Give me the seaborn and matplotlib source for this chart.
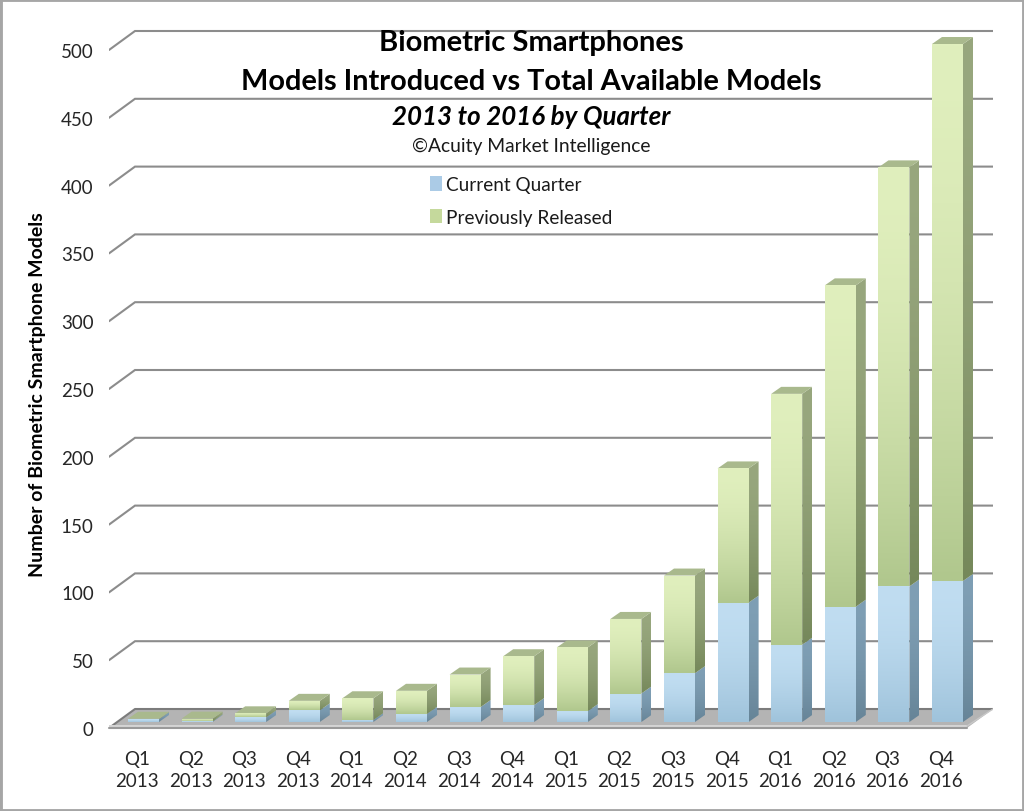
#!/usr/bin/python
import matplotlib
matplotlib.use('Agg')
import matplotlib.pyplot as plt
import matplotlib.transforms as mtrans
from matplotlib.colors import to_rgb
from matplotlib.patches import Patch, Polygon, Rectangle
import numpy as np
import pandas as pd
import seaborn as sns

quarters = ['Q1\n2013', 'Q2\n2013', 'Q3\n2013', 'Q4\n2013',
            'Q1\n2014', 'Q2\n2014', 'Q3\n2014', 'Q4\n2014',
            'Q1\n2015', 'Q2\n2015', 'Q3\n2015', 'Q4\n2015',
            'Q1\n2016', 'Q2\n2016', 'Q3\n2016', 'Q4\n2016']
current = [2, 0.5, 3.4, 8.6, 1.5, 6, 11, 12.5, 8, 21, 36, 88, 57, 85, 100, 104]
previous = [0.4, 2, 3, 7, 16, 17, 24, 36, 47, 55, 72, 99, 185, 237, 309, 396]
y_ticks = [0, 50, 100, 150, 200, 250, 300, 350, 400, 450, 500]

W, H = 1024, 812
STEP = 53.6          # px between bars
UNIT = 1.356         # px per model
BASE_X, BASE_Y = 143.5, 723   # px of first bar centre / bar foot


def dx(px):
    return px / STEP


def dy(px):
    return px / UNIT


sns.set_theme(style='white')
plt.rcParams['font.family'] = ['Lato', 'DejaVu Sans']
plt.rcParams['text.color'] = '#1a1a1a'

df = pd.DataFrame({'quarter': quarters, 'current': current, 'previous': previous})

fig = plt.figure(figsize=(W / 100, H / 100), dpi=100, facecolor='white')
ax = fig.add_axes([109 / W, (H - 729) / H, 884 / W, 709 / H])

sns.barplot(data=df, x='quarter', y='current', color='#afd0e6', width=31 / STEP,
            saturation=1, ax=ax, zorder=3, linewidth=0)
sns.barplot(data=df, x='quarter', y='previous', bottom=df['current'], color='#cfe2a6',
            width=31 / STEP, saturation=1, ax=ax, zorder=3, linewidth=0)

x_left, x_back = dx(109 - BASE_X), dx(135 - BASE_X)
x_right = dx(993 - BASE_X)
x_front_right = dx(967 - BASE_X)
lift_back = dy(BASE_Y - 710)
drop_front = dy(729 - BASE_Y)

# back wall grid with the slanted stub on the left
for v in y_ticks[1:]:
    ax.plot([x_left, x_back, x_right], [v - drop_front, v + lift_back, v + lift_back],
            color='#8c8c8c', lw=1.5, zorder=1, solid_joinstyle='miter')

# floor
ax.add_patch(Polygon([(x_left, -drop_front), (x_front_right, -drop_front),
                      (x_right, lift_back), (x_back, lift_back)],
                     closed=True, fc='#b4b4b4', ec='none', zorder=1.5))
ax.plot([x_left, x_back, x_right], [-drop_front, lift_back, lift_back],
        color='#7c7c7c', lw=1.5, zorder=1.6)
ax.add_patch(Rectangle((x_left, -drop_front), x_front_right - x_left, dy(3),
                       fc='#d4d4d4', ec='none', zorder=1.7))
ax.plot([x_left, x_front_right], [-drop_front, -drop_front], color='#9a9a9a', lw=1.5,
        zorder=1.8, clip_on=False)
ax.plot([x_front_right, x_right], [-drop_front + dy(2), lift_back], color='#c8c8c8', lw=1,
        zorder=1.8)


def fill(patch, top, bottom, x0, x1, y0, y1, z):
    t = np.linspace(0, 1, 128)[:, None] ** 1.7
    grad = (1 - t) * np.array(to_rgb(top)) + t * np.array(to_rgb(bottom))
    im = ax.imshow(grad[:, None, :], extent=(x0, x1, y0, y1), aspect='auto', origin='upper',
                   interpolation='bilinear', zorder=z)
    im.set_clip_path(patch)


def block(bar, top, bottom, side_top, side_bottom):
    x0, x1 = bar.get_x(), bar.get_x() + bar.get_width()
    y0, y1 = bar.get_y(), bar.get_y() + bar.get_height()
    ox, oy = dx(10), dy(7)
    fill(bar, top, bottom, x0, x1, y0, y1, 3)
    side = Polygon([(x1, y0), (x1 + ox, y0 + oy), (x1 + ox, y1 + oy), (x1, y1)],
                   closed=True, fc='none', ec='none', transform=ax.transData)
    ax.add_patch(side)
    fill(side, side_top, side_bottom, x1, x1 + ox, y0, y1 + oy, 2.5)


for bar in ax.containers[0]:
    block(bar, '#c0ddf1', '#9fc3db', '#7f9fb5', '#668497')
for bar in ax.containers[1]:
    block(bar, '#e0efbd', '#b0c78d', '#98a77e', '#75885a')

# lid of each column
for i, bar in enumerate(ax.containers[1]):
    x0, x1 = bar.get_x(), bar.get_x() + bar.get_width()
    y1 = bar.get_y() + bar.get_height()
    ox, oy = dx(10), dy(7)
    ax.add_patch(Polygon([(x0, y1), (x1, y1), (x1 + ox, y1 + oy), (x0 + ox, y1 + oy)],
                         closed=True, fc='#a9b98d', ec='none', zorder=2.6))

ax.set_xlim(dx(109 - BASE_X), dx(993 - BASE_X))
ax.set_ylim(-drop_front, dy(BASE_Y - 20))
sns.despine(ax=ax, left=True, bottom=True)

ax.set_yticks([v - drop_front for v in y_ticks])
ax.set_yticklabels([str(v) for v in y_ticks], fontsize=13.5)
ax.tick_params(axis='y', length=0, pad=11)
ax.tick_params(axis='x', length=0, pad=16, labelsize=13.5)
ax.set_xlabel('')
ax.set_ylabel('Number of Biometric Smartphone Models', fontsize=14, fontweight='bold',
              color='black')
ax.yaxis.set_label_coords((46 - 109) / 884, (729 - 395) / 709)

shift = mtrans.ScaledTranslation(-6.5 / 100, 0, fig.dpi_scale_trans)
for lab in ax.get_xticklabels():
    lab.set_transform(lab.get_transform() + shift)
    lab.set_linespacing(1.35)

cx = 531 / W
fig.text(cx, 1 - 43.5 / H, 'Biometric Smartphones', fontsize=21, fontweight='bold',
         color='black', ha='center', va='center')
fig.text(cx, 1 - 82 / H, 'Models Introduced vs Total Available Models', fontsize=20.8,
         fontweight='bold', color='black', ha='center', va='center')
fig.text(cx, 1 - 117 / H, '2013 to 2016 by Quarter', fontsize=18.6, fontweight='bold',
         fontstyle='italic', color='black', ha='center', va='center')
fig.text(cx, 1 - 146 / H, '©Acuity Market Intelligence', fontsize=13.9,
         ha='center', va='center')

handles = [Patch(fc='#abcbe6', ec='none'), Patch(fc='#c5d99c', ec='none')]
ax.legend(handles, ['Current Quarter', 'Previously Released'], frameon=False, fontsize=13.7,
          handlelength=0.65, handleheight=0.8, handletextpad=0.2, labelspacing=0.8,
          loc='center left', borderpad=0, borderaxespad=0,
          bbox_to_anchor=(430 / W, 1 - 202 / H),
          bbox_transform=fig.transFigure)

fig.add_artist(Rectangle((0, 0), 1, 1, transform=fig.transFigure, fill=False,
                         ec='#a6a6a6', lw=3.5))

plt.savefig('out.png', dpi=100)
